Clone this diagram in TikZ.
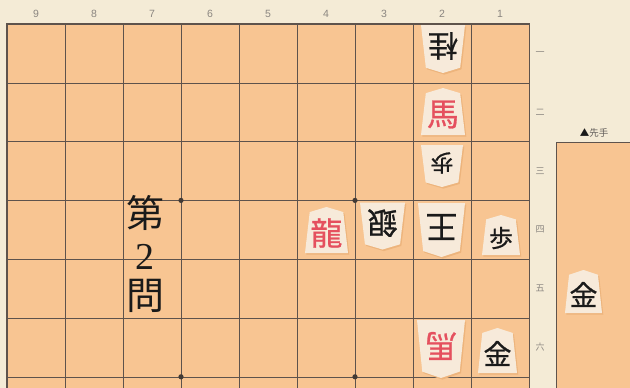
\documentclass[tikz,border=0pt]{standalone}
\usepackage{fontspec}
\newfontfamily\jp{Noto Sans CJK JP}
\newfontfamily\jpk[FakeBold=0.8]{Noto Sans CJK JP}
\newfontfamily\lsans{Liberation Sans}
\newfontfamily\lserif{Liberation Serif}
\definecolor{bg}{HTML}{F4EBD6}
\definecolor{boardc}{HTML}{F8C592}
\definecolor{gridc}{HTML}{5E534C}
\definecolor{piecec}{HTML}{F7EADA}
\definecolor{pshadow}{HTML}{EDB47C}
\definecolor{redp}{HTML}{E5505E}
\definecolor{ink}{HTML}{1A1A1A}
\definecolor{labelc}{HTML}{8A8580}
\tikzset{
  gridline/.style={draw=gridc, line width=0.6pt},
  frameline/.style={draw=gridc, line width=1.3pt},
  collabel/.style={text=labelc, font=\lsans\fontsize{10.5}{10.5}\selectfont, inner sep=0pt},
  rowlabel/.style={text=labelc, font=\jp\fontsize{9}{9}\selectfont, inner sep=0pt},
  bigtext/.style={text=ink, inner sep=0pt},
}
% name, x, y, w, h, dir (1 upright, -1 inverted), colour, size, text
\newcommand{\koma}[9]{%
  \begin{scope}[shift={(#2+1.3,#3+1.6)}, yscale=#6]
    \fill[pshadow] (0,-#5/2) -- (0.39*#4,-0.39*#5) -- (0.5*#4,#5/2) -- (-0.5*#4,#5/2) -- (-0.39*#4,-0.39*#5) -- cycle;
  \end{scope}
  \begin{scope}[shift={(#2,#3)}, yscale=#6]
    \fill[piecec] (0,-#5/2) -- (0.39*#4,-0.39*#5) -- (0.5*#4,#5/2) -- (-0.5*#4,#5/2) -- (-0.39*#4,-0.39*#5) -- cycle;
  \end{scope}
  \node[inner sep=0pt, text=#7, rotate={90-90*#6}, font=\jpk\fontsize{#8}{#8}\selectfont] (#1) at (#2,{#3+3*#6}) {#9};
}
\begin{document}
\begin{tikzpicture}[x=1pt, y=-1pt]
\useasboundingbox (0,0) rectangle (630,388);
\clip (0,0) rectangle (630,388);
\fill[bg] (0,0) rectangle (630,388);
% board
\fill[boardc] (7,24) rectangle (529.5,400);
\foreach \i in {1,...,8} \draw[gridline] ({7+58*\i},24) -- ({7+58*\i},400);
\foreach \j in {1,...,6} \draw[gridline] (7,{24+58.8*\j}) -- (529.5,{24+58.8*\j});
\draw[frameline] (7,400) -- (7,24) -- (529.5,24) -- (529.5,400);
% hoshi
\foreach \px in {181,355} \foreach \py in {200.4,376.8} \fill[gridc!70!black] (\px,\py) circle (2.6);
% column labels
\foreach \i in {0,...,8} {
  \pgfmathtruncatemacro{\lab}{9-\i}
  \node[collabel] (c\lab) at ({36+58*\i},14) {\lab};
}
% row labels
\node[rowlabel] (r1) at (540,53.4) {一};
\node[rowlabel] (r2) at (540,112.2) {二};
\node[rowlabel] (r3) at (540,171) {三};
\node[rowlabel] (r4) at (540,229.8) {四};
\node[rowlabel] (r5) at (540,288.6) {五};
\node[rowlabel] (r6) at (540,347.4) {六};
% komadai
\fill[boardc] (556,142) rectangle (640,400);
\draw[gridc, line width=0.9pt] (556,400) -- (556,142) -- (640,142);
\node[inner sep=0pt, font=\jp\fontsize{9.5}{9.5}\selectfont] (sente) at (594,133) {\textcolor{ink}{▲}\textcolor{labelc!70!black}{先手}};
% title
\node[bigtext, font=\jp\fontsize{38}{38}\selectfont] (t1) at (145,213) {第};
\node[bigtext, font=\lserif\fontsize{38}{38}\selectfont] (t2) at (145,257) {2};
\node[bigtext, font=\jp\fontsize{38}{38}\selectfont] (t3) at (145,296) {問};
% pieces
\koma{k21}{443}{49}{44}{48}{-1}{ink}{30}{桂}
\koma{k22}{443}{111.5}{44}{47}{1}{redp}{32}{馬}
\koma{k23}{442}{166}{42}{42}{-1}{ink}{23}{歩}
\koma{k44}{326.5}{230}{43}{46}{1}{redp}{32}{龍}
\koma{k34}{382.5}{226}{45}{47}{-1}{ink}{30}{銀}
\koma{k24}{441.5}{230}{47}{54}{-1}{ink}{32}{王}
\koma{k14}{501}{235}{38}{40}{1}{ink}{24}{歩}
\koma{k26}{441}{349}{48}{58}{-1}{redp}{32}{馬}
\koma{k16}{497.5}{350.5}{39}{45}{1}{ink}{28}{金}
\koma{kd}{583.5}{291.5}{37}{43}{1}{ink}{28}{金}
\end{tikzpicture}
\end{document}
